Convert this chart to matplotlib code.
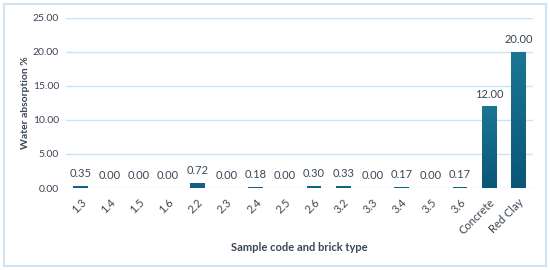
import matplotlib
matplotlib.use('Agg')
import matplotlib.pyplot as plt
import numpy as np
from matplotlib.patches import Rectangle
from matplotlib.colors import LinearSegmentedColormap

matplotlib.rcParams.update({'font.family': ['Lato', 'DejaVu Sans'], 'font.size': 8})

samples = ['1.3', '1.4', '1.5', '1.6', '2.2', '2.3', '2.4', '2.5', '2.6',
           '3.2', '3.3', '3.4', '3.5', '3.6', 'Concrete', 'Red Clay']
absorption = [0.35, 0.00, 0.00, 0.00, 0.72, 0.00, 0.18, 0.00, 0.30,
              0.33, 0.00, 0.17, 0.00, 0.17, 12.00, 20.00]

txt = '#3b4656'
grad = LinearSegmentedColormap.from_list('bar', ['#0a5677', '#1b7694'])

fig = plt.figure(figsize=(5.5, 2.7), dpi=100)
ax = fig.add_axes([0.12, 0.3037, 0.849, 0.63])

x = range(len(samples))
bars = ax.bar(x, absorption, width=0.5, color='#0f6283', zorder=3)
# vertical gradient fill on each bar
g = np.linspace(0, 1, 100).reshape(-1, 1)
for b, v in zip(bars, absorption):
    if v > 1:
        b.set_facecolor('none')
        b.set_edgecolor('none')
        im = ax.imshow(g, cmap=grad, aspect='auto', origin='lower', zorder=3,
                       extent=[b.get_x(), b.get_x() + b.get_width(), 0, v])
        im.set_clip_path(b)
    ax.text(b.get_x() + b.get_width() / 2, v + 1.0, '{:.2f}'.format(v),
            ha='center', va='bottom', color=txt, fontsize=8)

ax.set_ylim(0, 25)
ax.set_yticks([0, 5, 10, 15, 20, 25])
ax.set_yticklabels(['{:.2f}'.format(t) for t in [0, 5, 10, 15, 20, 25]])
ax.set_xlim(-0.5, len(samples) - 0.5)
ax.set_xticks(list(x))
ax.set_xticklabels(samples, rotation=45, ha='right', rotation_mode='anchor')
ax.tick_params(length=0, colors=txt, labelsize=8)
ax.tick_params(axis='y', pad=5, labelsize=7.5)
ax.tick_params(axis='x', pad=6)
ax.grid(axis='y', color='#c9e3f7', lw=1, zorder=0)
for s in ax.spines.values():
    s.set_visible(False)

ax.set_ylabel('Water absorption %', fontweight='bold', color=txt, fontsize=7.5)
ax.yaxis.set_label_coords(-0.078, 0.5)
ax.set_xlabel('Sample code and brick type', fontweight='bold', color=txt, fontsize=8, labelpad=4)

fig.patches.append(Rectangle((0.008, 0.015), 0.984, 0.97, transform=fig.transFigure,
                             fill=False, edgecolor='#cfe5f6', lw=1.5))

plt.savefig('out.png', dpi=100)
